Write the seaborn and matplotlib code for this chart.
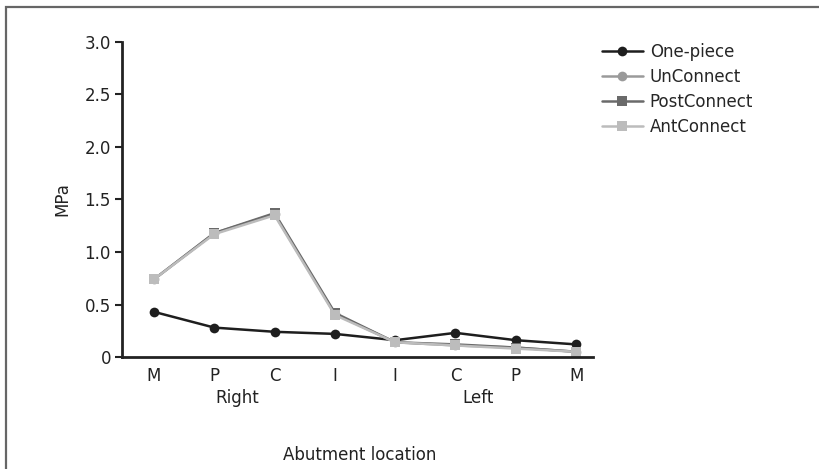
import numpy as np
import pandas as pd
import seaborn as sns
import matplotlib.pyplot as plt
from matplotlib.patches import Rectangle

# données
locations = ["M", "P", "C", "I", "I", "C", "P", "M"]
one_piece = [0.43, 0.28, 0.24, 0.22, 0.16, 0.23, 0.16, 0.12]
un_connect = [0.74, 1.18, 1.36, 0.41, 0.14, 0.11, 0.09, 0.05]
post_connect = [0.74, 1.18, 1.37, 0.42, 0.14, 0.12, 0.09, 0.05]
ant_connect = [0.74, 1.17, 1.35, 0.40, 0.14, 0.11, 0.08, 0.05]
series_names = ["One-piece", "UnConnect", "PostConnect", "AntConnect"]
colors = ["#1e1e1e", "#9a9a9a", "#6a6a6a", "#bcbcbc"]
markers = ["o", "o", "s", "s"]

pos = np.arange(len(locations))
df = pd.DataFrame({
    "pos": np.tile(pos, 4),
    "MPa": one_piece + un_connect + post_connect + ant_connect,
    "serie": np.repeat(series_names, len(locations)),
})

sns.set_style("ticks")
plt.rcParams["font.family"] = ["DejaVu Sans"]
txt = "#222222"

W, H = 819, 469
fig = plt.figure(figsize=(W / 100, H / 100), dpi=100)
ax = fig.add_axes([122 / W, 1 - 357 / H, (593 - 122) / W, (357 - 42) / H])

sns.lineplot(
    data=df, x="pos", y="MPa", hue="serie", style="serie",
    hue_order=series_names, style_order=series_names,
    palette=dict(zip(series_names, colors)),
    markers=dict(zip(series_names, markers)),
    dashes=False, linewidth=1.8, markersize=7, markeredgewidth=0,
    ax=ax, legend=True,
)

ax.set_xlim(-0.53, 7.28)
ax.set_ylim(0, 3.0)
ax.set_yticks([0, 0.5, 1.0, 1.5, 2.0, 2.5, 3.0])
ax.set_yticklabels(["0", "0.5", "1.0", "1.5", "2.0", "2.5", "3.0"], fontsize=12, color=txt)
ax.set_xticks(pos)
ax.set_xticklabels(locations, fontsize=12, color=txt)
ax.tick_params(axis="x", length=0, pad=7)
ax.tick_params(axis="y", length=5, width=1.5, color=txt, pad=3)
ax.set_xlabel("")
ax.set_ylabel("")
for s in ["left", "bottom"]:
    ax.spines[s].set_linewidth(2)
    ax.spines[s].set_color(txt)
sns.despine(ax=ax)

# étiquettes
fig.text(62 / W, 1 - 199 / H, "MPa", rotation=90, ha="center", va="center",
         fontsize=12, color=txt)
fig.text(237 / W, 1 - 398 / H, "Right", ha="center", va="center", fontsize=12, color=txt)
fig.text(478 / W, 1 - 398 / H, "Left", ha="center", va="center", fontsize=12, color=txt)
fig.text(360 / W, 1 - 455 / H, "Abutment location", ha="center", va="center",
         fontsize=12, color=txt)

leg = ax.legend(loc="upper left", bbox_to_anchor=(602 / W, 1 - 43 / H),
                bbox_transform=fig.transFigure, frameon=False, fontsize=12,
                handlelength=2.45, handletextpad=0.42, labelspacing=0.42,
                borderpad=0, borderaxespad=0)

# cadre (bords gauche et haut seulement visibles)
fig.add_artist(Rectangle((5.5 / W, -3 / H), 1, 1 - 4 / H, transform=fig.transFigure,
                         fill=False, edgecolor="#666666", linewidth=1.6))

fig.savefig("out.png", dpi=100)
